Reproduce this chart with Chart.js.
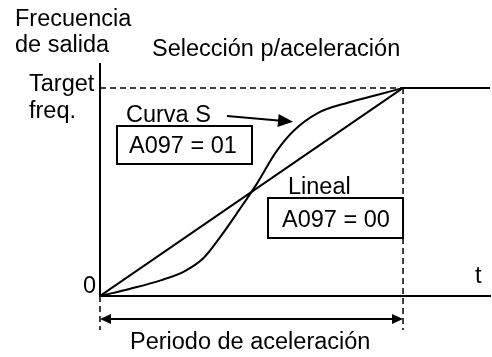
<!DOCTYPE html>
<html>
<head>
<meta charset="utf-8">
<script src="https://cdn.jsdelivr.net/npm/chart.js@4"></script>
<style>
  html, body { margin: 0; padding: 0; background: #fff; }
  #wrap { width: 492px; height: 357px; }
</style>
</head>
<body>
<div id="wrap"><canvas id="myChart" width="492" height="357"></canvas></div>
<script>
// time in % of the acceleration period, frequency in % of target
const X_MAX = 128.7;
const Y_MAX = 111.5;
const BELOW_AXIS = -16.3;   // how far the dashed guides go under the axis
const ARROW_LEVEL = -11;    // level of the "Periodo" double arrow

const linearX = [0, 100];
const linearY = [0, 100];

const sCurveX = [0, 10, 20, 28, 34, 40, 46, 52, 58, 64, 72, 82, 92, 100];
const sCurveY = [0, 3.5, 7.5, 12, 18, 29, 41.5, 54.5, 69, 79.5, 88, 93, 96.8, 100];

const holdX = [100, X_MAX];
const holdY = [100, 100];

const FONT = '23.5px "Liberation Sans", Arial, sans-serif';

const toPts = (xs, ys) => xs.map((x, i) => ({x: x, y: ys[i]}));

const lineSet = (pts, extra) => Object.assign({
  data: pts,
  showLine: true,
  pointRadius: 0,
  borderColor: '#000',
  borderWidth: 2,
  fill: false
}, extra || {});

function arrowHead(ctx, x, y, dx, dy, len, half) {
  const l = Math.hypot(dx, dy);
  const ux = dx / l, uy = dy / l;
  ctx.beginPath();
  ctx.moveTo(x, y);
  ctx.lineTo(x - ux * len - uy * half, y - uy * len + ux * half);
  ctx.lineTo(x - ux * len + uy * half, y - uy * len - ux * half);
  ctx.closePath();
  ctx.fill();
}

const labelsPlugin = {
  id: 'labels',
  afterDraw(chart) {
    const ctx = chart.ctx;
    const xs = chart.scales.x, ys = chart.scales.y;
    const px = v => xs.getPixelForValue(v);
    const py = v => ys.getPixelForValue(v);
    ctx.save();
    ctx.fillStyle = '#000';
    ctx.strokeStyle = '#000';
    ctx.font = FONT;
    ctx.textBaseline = 'alphabetic';
    ctx.textAlign = 'left';

    ctx.fillText('Frecuencia', 15, 26);
    ctx.fillText('de salida', 15, 52);
    ctx.fillText('Selección p/aceleración', 152, 56);
    ctx.fillText('Target', 29, 91);
    ctx.fillText('freq.', 29, 118);
    ctx.textAlign = 'right';
    ctx.fillText('0', px(0) - 4, py(0) - 3);
    ctx.textAlign = 'left';
    ctx.fillText('t', 475, 283);
    ctx.fillText('Curva S', 126, 122);
    ctx.fillText('Lineal', 288, 194);

    // boxes
    ctx.lineWidth = 2;
    ctx.strokeRect(117, 126, 135, 38);
    ctx.fillText('A097 = 01', 129, 153);
    ctx.strokeRect(268, 198, px(100) - 268, 40);
    ctx.fillText('A097 = 00', 282, 227);

    // Curva S pointer
    const ax0 = px(41.9), ay0 = py(86.5), ax1 = px(63.7), ay1 = py(83.7);
    ctx.beginPath();
    ctx.moveTo(ax0, ay0);
    ctx.lineTo(ax1 - 12, ay1 - 1);
    ctx.stroke();
    arrowHead(ctx, ax1, ay1, ax1 - ax0, ay1 - ay0, 15, 6.5);

    // acceleration period double arrow
    const yA = py(ARROW_LEVEL);
    ctx.beginPath();
    ctx.moveTo(px(0) + 8, yA);
    ctx.lineTo(px(100) - 8, yA);
    ctx.stroke();
    arrowHead(ctx, px(0), yA, -1, 0, 11, 5);
    arrowHead(ctx, px(100), yA, 1, 0, 11, 5);
    ctx.fillText('Periodo de aceleración', 130, 349);
    ctx.restore();
  }
};

new Chart(document.getElementById('myChart').getContext('2d'), {
  type: 'scatter',
  data: {
    datasets: [
      lineSet(toPts(linearX, linearY)),
      lineSet(toPts(sCurveX, sCurveY), {cubicInterpolationMode: 'monotone'}),
      lineSet(toPts(holdX, holdY)),
      lineSet([{x: 0, y: 100}, {x: 100, y: 100}], {borderWidth: 1.5, borderDash: [6, 4]}),
      lineSet([{x: 100, y: 100}, {x: 100, y: BELOW_AXIS}], {borderWidth: 1.5, borderDash: [6, 4], clip: false}),
      lineSet([{x: 0, y: 0}, {x: 0, y: BELOW_AXIS}], {borderWidth: 1.5, borderDash: [6, 4], clip: false})
    ]
  },
  options: {
    responsive: false,
    animation: false,
    layout: {padding: {left: 100, top: 64, right: 2, bottom: 61}},
    plugins: {legend: {display: false}, tooltip: {enabled: false}},
    scales: {
      x: {
        type: 'linear', min: 0, max: X_MAX,
        grid: {display: false, drawTicks: false},
        ticks: {display: false},
        border: {display: true, color: '#000', width: 2}
      },
      y: {
        type: 'linear', min: 0, max: Y_MAX,
        grid: {display: false, drawTicks: false},
        ticks: {display: false},
        border: {display: true, color: '#000', width: 2}
      }
    }
  },
  plugins: [labelsPlugin]
});
</script>
</body>
</html>
